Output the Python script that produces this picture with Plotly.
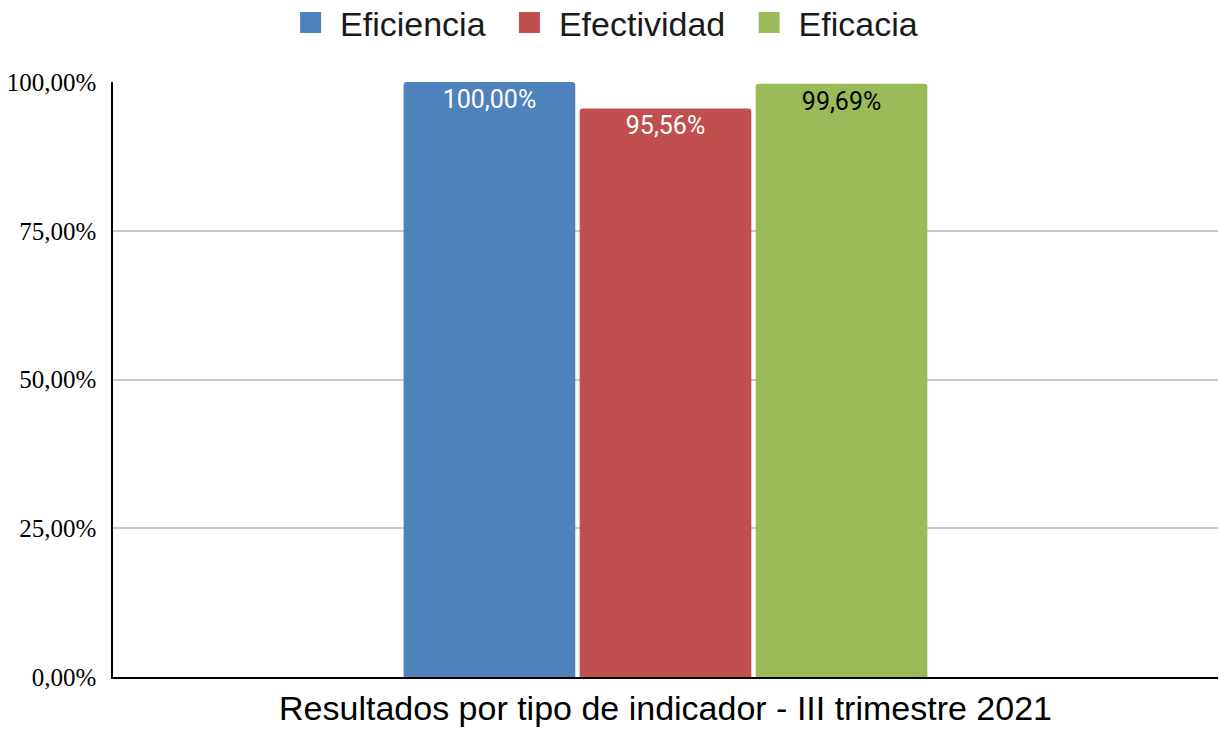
import plotly.graph_objects as go

categories = ["Resultados por tipo de indicador - III trimestre 2021"]
series_names = ["Eficiencia", "Efectividad", "Eficacia"]
series_values = [[100.00], [95.56], [99.69]]
series_colors = ["#4f81bd", "#c0504d", "#9bbb59"]
label_colors = ["#ffffff", "#ffffff", "#000000"]
y_tick_values = [0, 25, 50, 75, 100]
y_tick_labels = ["0,00%", "25,00%", "50,00%", "75,00%", "100,00%"]

NB = "\u00a0"

fig = go.Figure()
for name, vals, col, lc in zip(series_names, series_values, series_colors, label_colors):
    fig.add_trace(go.Bar(
        name=name, x=categories, y=vals,
        marker=dict(color=col, cornerradius=3, line=dict(width=0)),
        texttemplate="%{y:.2f}%",
        textposition="inside", insidetextanchor="end",
        textangle=0, constraintext="none",
        textfont=dict(family="Roboto", size=25, color=lc),
        showlegend=False, legendgroup=name, hoverinfo="skip",
    ))
    fig.add_trace(go.Scatter(
        name=NB + name + NB * 2, x=[None], y=[None], mode="markers",
        marker=dict(symbol="square", size=16, color=col, line=dict(color=col, width=5)),
        showlegend=True, legendgroup=name,
    ))

fig.update_layout(
    width=1220, height=729,
    margin=dict(l=113, r=2, t=82, b=52),
    paper_bgcolor="white", plot_bgcolor="white",
    separators=",.",
    barmode="group", bargap=0.522, bargroupgap=0.025,
    legend=dict(orientation="h", x=0.505, xanchor="center", xref="container",
                y=1 - 23 / 729, yanchor="middle", yref="container",
                font=dict(family="Liberation Sans", size=34, color="#1a1a1a"),
                itemclick=False, itemdoubleclick=False),
    font=dict(family="Liberation Sans", color="#000000"),
)
fig.update_xaxes(
    showline=True, linecolor="#000000", linewidth=1.5, showgrid=False,
    ticks="", tickfont=dict(family="Liberation Sans", size=34, color="#000000"),
)
fig.update_yaxes(
    range=[0, 100], tickvals=y_tick_values, ticktext=y_tick_labels,
    showline=True, linecolor="#000000", linewidth=1.5,
    showgrid=True, gridcolor="#c8c8c8", gridwidth=1.5, zeroline=False,
    ticks="", ticklabelstandoff=10,
    tickfont=dict(family="Liberation Serif", size=25, color="#000000"),
)

fig.write_html("out.html", config={"displayModeBar": False},
               post_script="document.body.style.margin='0';")
